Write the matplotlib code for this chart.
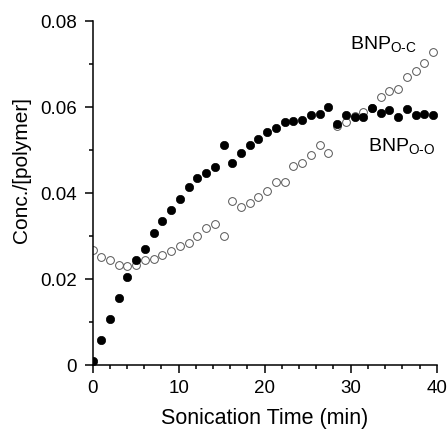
import numpy as np
import matplotlib.pyplot as plt
from matplotlib.ticker import MultipleLocator, FuncFormatter

plt.rcParams["font.family"] = ["Liberation Sans", "DejaVu Sans"]
plt.rcParams["mathtext.fontset"] = "custom"
plt.rcParams["mathtext.rm"] = "Liberation Sans"

# sonication time (min), one reading roughly every minute
time_min = np.arange(40) * 1.015

# BNP O-C (filled)
bnp_oc = [0.0010, 0.0058, 0.0107, 0.0155, 0.0204, 0.0244, 0.0270, 0.0308,
          0.0335, 0.0360, 0.0387, 0.0414, 0.0434, 0.0447, 0.0460, 0.0512,
          0.0469, 0.0493, 0.0511, 0.0526, 0.0542, 0.0550, 0.0564, 0.0567,
          0.0569, 0.0582, 0.0583, 0.0601, 0.0560, 0.0582, 0.0577, 0.0577,
          0.0597, 0.0586, 0.0593, 0.0576, 0.0595, 0.0582, 0.0584, 0.0581]

# BNP O-O (open)
bnp_oo = [0.0268, 0.0252, 0.0243, 0.0233, 0.0231, 0.0233, 0.0243, 0.0247,
          0.0256, 0.0265, 0.0277, 0.0284, 0.0300, 0.0319, 0.0328, 0.0300,
          0.0381, 0.0367, 0.0376, 0.0390, 0.0405, 0.0425, 0.0426, 0.0462,
          0.0470, 0.0488, 0.0512, 0.0492, 0.0555, 0.0564, 0.0578, 0.0588,
          0.0598, 0.0623, 0.0638, 0.0642, 0.0670, 0.0684, 0.0702, 0.0727]

fig = plt.figure(figsize=(4.47, 4.31), dpi=100)
ax = fig.add_axes([0.207, 0.151, 0.770, 0.798])

ax.plot(time_min, bnp_oo, "o", ms=5.6, mfc="white", mec="#555555", mew=0.7)
ax.plot(time_min, bnp_oc, "o", ms=6.0, mfc="black", mec="black", mew=0.5)

ax.set_xlim(0, 40)
ax.set_ylim(0, 0.08)
ax.xaxis.set_major_locator(MultipleLocator(10))
ax.xaxis.set_minor_locator(MultipleLocator(2))
ax.yaxis.set_major_locator(MultipleLocator(0.02))
ax.yaxis.set_minor_locator(MultipleLocator(0.01))
ax.yaxis.set_major_formatter(FuncFormatter(lambda v, p: "0" if abs(v) < 1e-9 else f"{v:.2f}"))

for s in ["top", "right"]:
    ax.spines[s].set_visible(False)
for s in ["left", "bottom"]:
    ax.spines[s].set_linewidth(1.1)

ax.tick_params(which="major", length=5.8, width=1.1, labelsize=13.5)
ax.tick_params(which="minor", length=3, width=1.1)
ax.tick_params(axis="y", which="major", pad=5.5)
ax.tick_params(axis="x", which="major", pad=4.5)

ax.set_xlabel("Sonication Time (min)", fontsize=15.5, labelpad=8)
ax.set_ylabel("Conc./[polymer]", fontsize=15, labelpad=5)
ax.yaxis.set_label_coords(-0.18, 0.57)

ax.text(29.9, 0.0735, r"BNP$_{\mathrm{O\text{-}C}}$", fontsize=14)
ax.text(32.05, 0.0498, r"BNP$_{\mathrm{O\text{-}O}}$", fontsize=14)

fig.savefig("out.png", dpi=100)
